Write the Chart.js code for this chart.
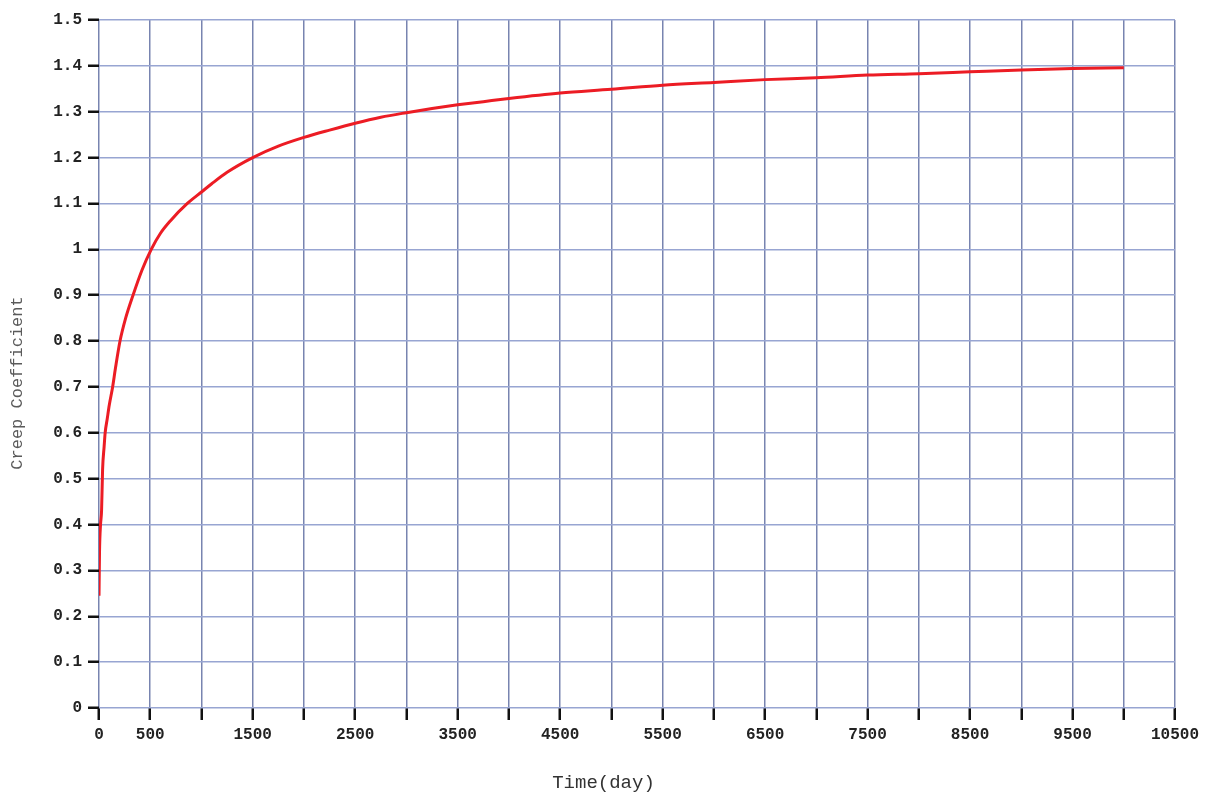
<!DOCTYPE html>
<html>
<head>
<meta charset="utf-8">
<title>Creep Coefficient</title>
<script src="https://cdn.jsdelivr.net/npm/chart.js@4/dist/chart.umd.min.js"></script>
<style>
  html, body { margin: 0; padding: 0; background: #ffffff; }
  #wrap { width: 1207px; height: 793px; position: relative; }
</style>
</head>
<body>
<div id="wrap"><canvas id="chart" width="1207" height="793"></canvas></div>
<script>
// Creep coefficient over time (days)
const timeDays = [0, 5, 15, 25, 35, 50, 60, 80, 100, 133, 160, 205, 260, 332, 420, 510, 600, 700, 862, 1000,
  1100, 1250, 1500, 1750, 2000, 2250, 2500, 2750, 3000, 3250, 3500, 3750, 4000, 4500, 5000, 5500,
  6000, 6500, 7000, 7500, 8000, 8500, 9000, 9500, 10000];
const creepCoefficient = [0.245, 0.34, 0.40, 0.43, 0.52, 0.57, 0.60, 0.63, 0.66, 0.70, 0.74, 0.80, 0.85, 0.90, 0.955, 1.0, 1.035, 1.063, 1.10, 1.125,
  1.143, 1.168, 1.2, 1.225, 1.244, 1.26, 1.275, 1.288, 1.298, 1.307, 1.315, 1.322, 1.329, 1.341, 1.349, 1.358,
  1.364, 1.370, 1.374, 1.380, 1.383, 1.387, 1.391, 1.394, 1.396];

// Axis ranges and labelled x ticks
const xMin = 0, xMax = 10500, xStep = 500;
const yMin = 0, yMax = 1.5, yStep = 0.1;
const xLabelledTicks = [0, 500, 1500, 2500, 3500, 4500, 5500, 6500, 7500, 8500, 9500, 10500];
const xTitle = 'Time(day)';
const yTitle = 'Creep Coefficient';

const monoFamily = "'Courier New', 'Liberation Mono', 'DejaVu Sans Mono', monospace";

// Axis titles drawn relative to the canvas
const axisTitles = {
  id: 'axisTitles',
  afterDraw(chart) {
    const ctx = chart.ctx;
    ctx.save();
    ctx.textAlign = 'center';
    ctx.textBaseline = 'middle';
    ctx.fillStyle = '#333333';
    ctx.font = '19px ' + monoFamily;
    ctx.fillText(xTitle, chart.width / 2, 783);
    ctx.translate(17, 383);
    ctx.rotate(-Math.PI / 2);
    ctx.fillStyle = '#5a5a5a';
    ctx.font = '17px ' + monoFamily;
    ctx.fillText(yTitle, 0, 0);
    ctx.restore();
  }
};

new Chart(document.getElementById('chart'), {
  type: 'line',
  data: {
    datasets: [{
      data: timeDays.map((t, i) => ({ x: t, y: creepCoefficient[i] })),
      borderColor: '#ec1c24',
      borderWidth: 3,
      pointRadius: 0,
      cubicInterpolationMode: 'monotone',
      fill: false
    }]
  },
  options: {
    responsive: false,
    animation: false,
    layout: { padding: { left: 0, top: 20, right: 32, bottom: 0 } },
    plugins: {
      legend: { display: false },
      tooltip: { enabled: false }
    },
    scales: {
      x: {
        type: 'linear',
        min: xMin,
        max: xMax,
        afterFit(scale) { scale.height = 85; },
        border: { display: false },
        grid: {
          color: '#7884b0',
          lineWidth: 1.5,
          borderDash: [3, 1],
          tickColor: '#111111',
          tickLength: 12,
          tickWidth: 2.5
        },
        ticks: {
          stepSize: xStep,
          autoSkip: false,
          maxRotation: 0,
          minRotation: 0,
          padding: 5,
          color: '#222222',
          font: { family: monoFamily, size: 16, weight: 'bold' },
          callback: (v) => xLabelledTicks.includes(v) ? String(v) : ''
        }
      },
      y: {
        type: 'linear',
        min: yMin,
        max: yMax,
        afterFit(scale) { scale.width = 99; },
        border: { display: false },
        grid: {
          color: '#98a5d2',
          lineWidth: 1.5,
          borderDash: [3, 1],
          tickColor: '#111111',
          tickLength: 11,
          tickWidth: 2.5
        },
        ticks: {
          stepSize: yStep,
          padding: 6,
          color: '#222222',
          font: { family: monoFamily, size: 16, weight: 'bold' },
          callback: (v) => String(Number(v.toFixed(1)))
        }
      }
    }
  },
  plugins: [axisTitles]
});
</script>
</body>
</html>
